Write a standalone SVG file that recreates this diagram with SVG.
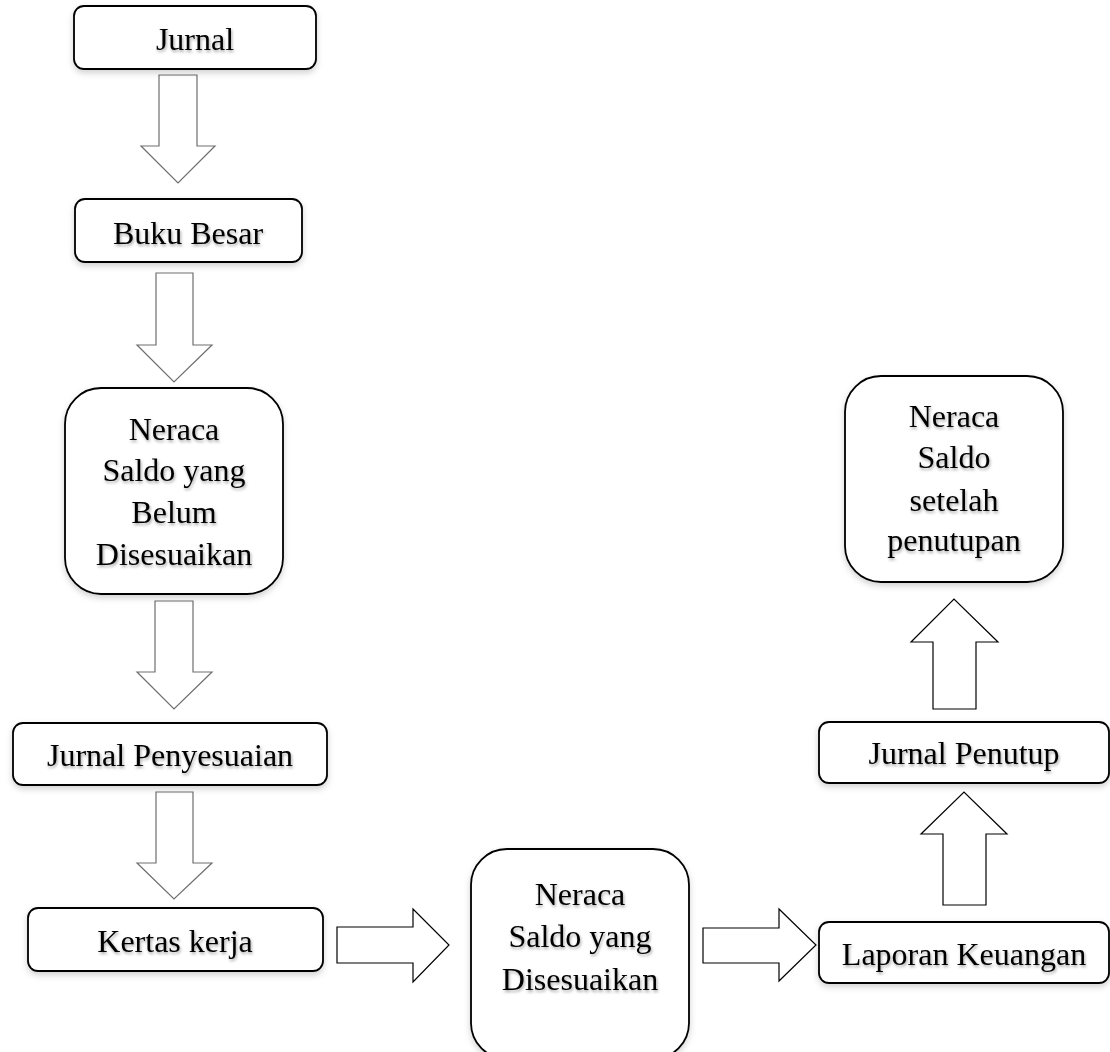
<svg xmlns="http://www.w3.org/2000/svg" width="1110" height="1052" viewBox="0 0 1110 1052">
<defs>
<filter id="boxsh" x="-10%" y="-10%" width="120%" height="130%">
<feDropShadow dx="0" dy="3" stdDeviation="3" flood-color="#000" flood-opacity="0.18"/>
</filter>
<filter id="txtsh" x="-10%" y="-20%" width="120%" height="150%">
<feDropShadow dx="1" dy="2" stdDeviation="1.8" flood-color="#000" flood-opacity="0.35"/>
</filter>
</defs>
<style>
.box{fill:#fff;stroke:#000;stroke-width:1.8}
.t{font-family:"Liberation Serif","Times New Roman",serif;font-size:32px;fill:#000;text-anchor:middle;filter:url(#txtsh)}
.ad{fill:#fff;stroke:#6e6e6e;stroke-width:1.2}
.ab{fill:#fff;stroke:#000;stroke-width:1.2}
</style>
<g id="connectors">
<polygon class="ad" points="159,75 197,75 197,146 215,146 178,183 141,146 159,146"/>
<polygon class="ad" points="156,273 193,273 193,345 212,345 174,382 137,345 156,345"/>
<polygon class="ad" points="155,601 193,601 193,672 212,672 174,709 137,672 155,672"/>
<polygon class="ad" points="156,792 193,792 193,863 212,863 174,899 137,863 156,863"/>
<polygon class="ab" points="337,927 413,927 413,909 449,945 413,982 413,963 337,963"/>
<polygon class="ab" points="703,928 779,928 779,909 816,945 779,981 779,963 703,963"/>
<polygon class="ab" points="943,905 943,834 921,834 964,792 1007,834 986,834 986,905"/>
<polygon class="ab" points="933,709 933,642 911,642 954,599 998,642 976,642 976,709"/>
</g>
<g id="jurnal">
<rect class="box" x="74" y="6" width="242" height="63" rx="10" filter="url(#boxsh)"/>
<text class="t" x="195" y="50">Jurnal</text>
</g>
<g id="buku-besar">
<rect class="box" x="75" y="199" width="227" height="63" rx="10" filter="url(#boxsh)"/>
<text class="t" x="188" y="244">Buku Besar</text>
</g>
<g id="neraca-belum">
<rect class="box" x="65" y="388" width="218" height="206" rx="36" filter="url(#boxsh)"/>
<text class="t" x="174" y="440">Neraca</text>
<text class="t" x="174" y="481">Saldo yang</text>
<text class="t" x="174" y="523">Belum</text>
<text class="t" x="174" y="565">Disesuaikan</text>
</g>
<g id="jurnal-penyesuaian">
<rect class="box" x="13" y="723" width="314" height="62" rx="10" filter="url(#boxsh)"/>
<text class="t" x="170" y="766">Jurnal Penyesuaian</text>
</g>
<g id="kertas-kerja">
<rect class="box" x="28" y="908" width="295" height="63" rx="10" filter="url(#boxsh)"/>
<text class="t" x="175" y="952">Kertas kerja</text>
</g>
<g id="neraca-disesuaikan">
<rect class="box" x="471" y="849" width="218" height="210" rx="36" filter="url(#boxsh)"/>
<text class="t" x="580" y="905">Neraca</text>
<text class="t" x="580" y="947">Saldo yang</text>
<text class="t" x="580" y="990">Disesuaikan</text>
</g>
<g id="laporan-keuangan">
<rect class="box" x="819" y="922" width="290" height="61" rx="10" filter="url(#boxsh)"/>
<text class="t" x="964" y="965">Laporan Keuangan</text>
</g>
<g id="jurnal-penutup">
<rect class="box" x="819" y="722" width="290" height="61" rx="10" filter="url(#boxsh)"/>
<text class="t" x="964" y="764">Jurnal Penutup</text>
</g>
<g id="neraca-setelah">
<rect class="box" x="845" y="376" width="218" height="206" rx="36" filter="url(#boxsh)"/>
<text class="t" x="954" y="427">Neraca</text>
<text class="t" x="954" y="468">Saldo</text>
<text class="t" x="954" y="511">setelah</text>
<text class="t" x="954" y="551">penutupan</text>
</g>
</svg>
